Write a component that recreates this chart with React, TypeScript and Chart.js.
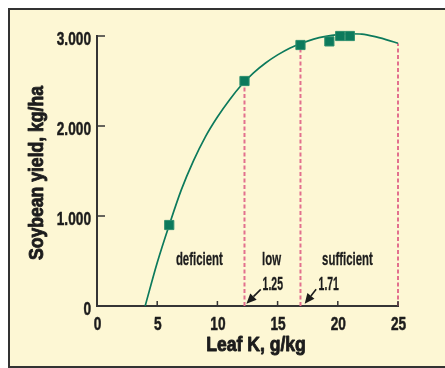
import React, { useEffect, useRef } from "react";
import { Chart, registerables } from "chart.js";

Chart.register(...registerables);

// Measured points (Leaf K g/kg, yield kg/ha)
const pointX = [6.0, 12.25, 16.9, 19.3, 20.2, 21.0];
const pointY = [900, 2500, 2900, 2940, 3000, 3000];

// Response curve
const curveX = [4, 5, 6, 7, 8, 9, 10, 11, 12, 13, 14, 15, 16, 17, 18, 19, 20, 21, 22, 23, 24, 25];
const curveY = [0, 480, 900, 1290, 1610, 1880, 2100, 2290, 2455, 2590, 2700, 2790, 2865, 2920, 2965, 2995, 3015, 3025, 3020, 2995, 2960, 2920];

// Dashed boundaries (x, top of dash)
const boundaryX = [12.25, 16.9, 25];
const boundaryTop = [2500, 2900, 2920];

const xTickValues = [0, 5, 10, 15, 20, 25];
const xTickLabels = ["0", "5", "10", "15", "20", "25"];
const yTickValues = [0, 1000, 2000, 3000];
const yTickLabels = ["0", "1.000", "2.000", "3.000"];

const zoneLabels = ["deficient", "low", "sufficient"];
const zoneLabelX = [8.5, 14.5, 20.8];
const zoneLabelY = 455;

const thresholdLabels = ["1.25", "1.71"];
const thresholdLabelX = [14.6, 19.25];
const thresholdLabelY = 178;
const arrowTailX = [13.6, 18.2];
const arrowTailY = [185, 185];
const arrowTipX = [12.41, 17.25];
const arrowTipY = [25, 25];

const xTitle = "Leaf K, g/kg";
const yTitle = "Soybean yield, kg/ha";

const FONT = "'Liberation Sans', Arial, sans-serif";
const INK = "#1c1c1c";
const GREEN = "#0c7a5c";
const DASH = "#e2708e";
const AXIS = "#353535";

function drawText(ctx: CanvasRenderingContext2D, text: string, x: number, y: number, font: string, sx: number, align: CanvasTextAlign, stroke: number) {
  ctx.save();
  ctx.font = font;
  ctx.translate(x, y);
  ctx.scale(sx, 1);
  ctx.textAlign = align;
  ctx.textBaseline = "alphabetic";
  ctx.fillStyle = INK;
  ctx.fillText(text, 0, 0);
  if (stroke > 0) {
    ctx.strokeStyle = INK;
    ctx.lineWidth = stroke;
    ctx.lineJoin = "round";
    ctx.strokeText(text, 0, 0);
  }
  ctx.restore();
}

export default function App() {
  const ref = useRef<HTMLCanvasElement | null>(null);

  useEffect(() => {
    if (!ref.current) return;
    const annot = {
      id: "annot",
      afterDraw(chart: any) {
        const ctx: CanvasRenderingContext2D = chart.ctx;
        const xs = chart.scales.x;
        const ys = chart.scales.y;
        const area = chart.chartArea;
        ctx.save();
        // inward ticks
        ctx.strokeStyle = AXIS;
        ctx.lineWidth = 1.5;
        ctx.beginPath();
        for (const v of yTickValues) {
          if (v === 0) continue;
          const py = ys.getPixelForValue(v);
          ctx.moveTo(area.left, py);
          ctx.lineTo(area.left + 8, py);
        }
        for (const v of xTickValues) {
          if (v === 0) continue;
          const px = xs.getPixelForValue(v);
          ctx.moveTo(px, area.bottom);
          ctx.lineTo(px, area.bottom - 5);
        }
        ctx.stroke();

        ctx.fillStyle = INK;
        // tick labels
        const tickFont = `bold 19px ${FONT}`;
        yTickValues.forEach((v, i) => {
          drawText(ctx, yTickLabels[i], area.left - 6, ys.getPixelForValue(v) + 9, tickFont, 0.72, "right", 0.5);
        });
        xTickValues.forEach((v, i) => {
          drawText(ctx, xTickLabels[i], xs.getPixelForValue(v) + 0.5, area.bottom + 24, tickFont, 0.72, "center", 0.5);
        });

        // zone labels
        zoneLabels.forEach((t, i) => {
          drawText(ctx, t, xs.getPixelForValue(zoneLabelX[i]), ys.getPixelForValue(zoneLabelY), `bold 19px ${FONT}`, 0.6, "center", 0.3);
        });
        thresholdLabels.forEach((t, i) => {
          drawText(ctx, t, xs.getPixelForValue(thresholdLabelX[i]), ys.getPixelForValue(thresholdLabelY), `bold 18px ${FONT}`, 0.58, "center", 0.3);
        });

        // arrows
        ctx.strokeStyle = INK;
        ctx.fillStyle = INK;
        ctx.lineWidth = 1.6;
        arrowTipX.forEach((_, i) => {
          const x1 = xs.getPixelForValue(arrowTailX[i]);
          const y1 = ys.getPixelForValue(arrowTailY[i]);
          const x2 = xs.getPixelForValue(arrowTipX[i]);
          const y2 = ys.getPixelForValue(arrowTipY[i]);
          const ang = Math.atan2(y2 - y1, x2 - x1);
          const hl = 10, hw = 4.5;
          const bx = x2 - hl * Math.cos(ang);
          const by = y2 - hl * Math.sin(ang);
          ctx.beginPath();
          ctx.moveTo(x1, y1);
          ctx.lineTo(bx, by);
          ctx.stroke();
          ctx.beginPath();
          ctx.moveTo(x2, y2);
          ctx.lineTo(bx + hw * Math.sin(ang), by - hw * Math.cos(ang));
          ctx.lineTo(bx - hw * Math.sin(ang), by + hw * Math.cos(ang));
          ctx.closePath();
          ctx.fill();
        });

        // axis titles
        const titleFont = `bold 20px ${FONT}`;
        drawText(ctx, xTitle, 256, 351, titleFont, 0.88, "center", 0.9);
        ctx.save();
        ctx.translate(43, 173);
        ctx.rotate(-Math.PI / 2);
        drawText(ctx, yTitle, 0, 0, titleFont, 0.88, "center", 0.9);
        ctx.restore();
        ctx.restore();
      },
    };

    const chart = new Chart(ref.current, {
      type: "scatter",
      data: {
        datasets: [
          {
            label: "points",
            data: pointX.map((x, i) => ({ x, y: pointY[i] })),
            pointStyle: "rect",
            pointRadius: 6.5,
            pointHoverRadius: 6.5,
            backgroundColor: GREEN,
            borderColor: "#2e8f6e",
            borderWidth: 1,
            showLine: false,
            clip: false,
          } as any,
          {
            label: "curve",
            data: curveX.map((x, i) => ({ x, y: curveY[i] })),
            showLine: true,
            borderColor: GREEN,
            borderWidth: 1.7,
            pointRadius: 0,
            cubicInterpolationMode: "monotone",
            clip: false,
          } as any,
          ...(boundaryX.map((bx, i) => ({
            label: "boundary" + i,
            data: [
              { x: bx, y: 0 },
              { x: bx, y: boundaryTop[i] },
            ],
            showLine: true,
            borderColor: DASH,
            borderWidth: 2,
            borderDash: [4, 2.5],
            pointRadius: 0,
            clip: false,
          })) as any),
        ],
      },
      options: {
        animation: false,
        responsive: false,
        events: [],
        layout: { padding: { top: 36, right: 47, left: 0, bottom: 0 } },
        plugins: { legend: { display: false }, tooltip: { enabled: false } },
        scales: {
          x: {
            type: "linear",
            min: 0,
            max: 25,
            ticks: { stepSize: 5, display: false },
            grid: { display: false, drawTicks: false },
            border: { display: true, color: AXIS, width: 2 },
            afterFit: (s: any) => {
              s.height = 62;
            },
          },
          y: {
            type: "linear",
            min: 0,
            max: 3000,
            ticks: { stepSize: 1000, display: false },
            grid: { display: false, drawTicks: false },
            border: { display: true, color: AXIS, width: 2 },
            afterFit: (s: any) => {
              s.width = 97;
            },
          },
        },
      } as any,
      plugins: [annot],
    });
    return () => chart.destroy();
  }, []);

  return (
    <div style={{ position: "absolute", left: 0, top: 0, width: 445, height: 368, overflow: "hidden" }}>
      <div
        style={{
          position: "absolute",
          left: 8,
          top: 8,
          width: 470,
          height: 360,
          boxSizing: "border-box",
          background: "#fdf7d4",
          borderLeft: "2px solid #333",
          borderTop: "2px solid #333",
          borderBottom: "2px solid #333",
        }}
      />
      <canvas ref={ref} width={445} height={368} style={{ position: "absolute", left: 0, top: 0 }} />
    </div>
  );
}
